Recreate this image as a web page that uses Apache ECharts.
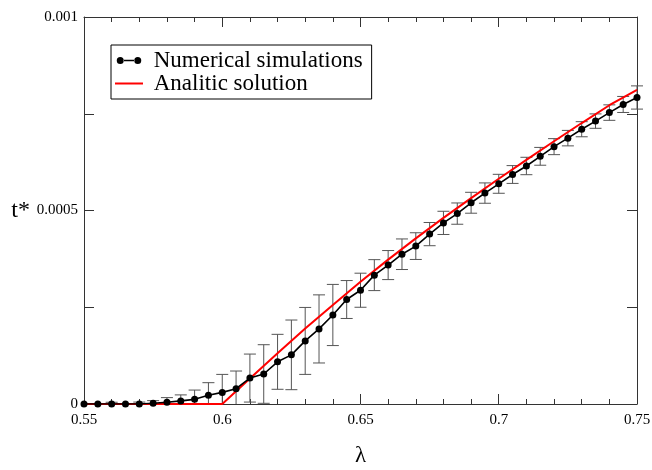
<!DOCTYPE html>
<html>
<head>
<meta charset="utf-8">
<script src="https://cdn.jsdelivr.net/npm/echarts@6/dist/echarts.min.js"></script>
<style>html,body{margin:0;padding:0;background:#fff;}#c{width:652px;height:470px;}</style>
</head>
<body>
<div id="c"></div>
<script>
const lambdaValues = [0.55,0.555,0.56,0.565,0.57,0.575,0.58,0.585,0.59,0.595,0.6,0.605,0.61,0.615,0.62,0.625,0.63,0.635,0.64,0.645,0.65,0.655,0.66,0.665,0.67,0.675,0.68,0.685,0.69,0.695,0.7,0.705,0.71,0.715,0.72,0.725,0.73,0.735,0.74,0.745,0.75];
const simValues = [0,0,0,0,0,0.000002,0.0000045,0.000008,0.000012,0.0000225,0.00003,0.0000395,0.000067,0.0000775,0.000109,0.000127,0.000163,0.000194,0.00023,0.00027,0.000294,0.000333,0.000359,0.000387,0.000408,0.000439,0.000468,0.000492,0.00052,0.000545,0.000569,0.000593,0.000615,0.00064,0.000665,0.000687,0.00071,0.000731,0.000753,0.000774,0.000792];
const simErrors = [0,0,0.0000045,0,0.000005,0.0000067,0.000012,0.0000155,0.000024,0.0000326,0.0000465,0.0000457,0.000062,0.0000757,0.000071,0.00009,0.0000865,0.000088,0.000079,0.000049,0.000044,0.00004,0.0000375,0.0000395,0.0000345,0.00003,0.00003,0.0000275,0.000027,0.0000263,0.0000245,0.000023,0.0000225,0.000023,0.0000207,0.00002,0.0000195,0.0000186,0.00002,0.0000207,0.00003];
const analyticLambda = [0.55,0.6,0.61,0.62,0.63,0.64,0.65,0.66,0.67,0.68,0.69,0.7,0.71,0.72,0.73,0.74,0.75];
const analyticValues = [0,0,0.000066,0.000131,0.000195,0.000256,0.000316,0.000373,0.000428,0.000481,0.000532,0.000582,0.000631,0.000679,0.000726,0.000772,0.000812];
const xTickLabels = ['0.55','0.6','0.65','0.7','0.75'];
const yTickLabels = ['0','0.0005','0.001'];
const seriesNames = ['Numerical simulations','Analitic solution'];

const serif = '"Liberation Serif","DejaVu Serif",serif';
const axisColor = '#333';

const simData = lambdaValues.map((x,i)=>[x, simValues[i]]);
const errData = lambdaValues.map((x,i)=>[x, simValues[i], simErrors[i]]);
const anaData = analyticLambda.map((x,i)=>[x, analyticValues[i]]);

function xLabel(v){ const i = Math.round((v-0.55)/0.05); return xTickLabels[i] || ''; }
function yLabel(v){ const k = v/0.0005; const r = Math.round(k); return Math.abs(k-r)<1e-6 ? (yTickLabels[r]||'') : ''; }

const chart = echarts.init(document.getElementById('c'), null, {renderer:'canvas'});
const baseX = {
  type:'value', min:0.55, max:0.75, interval:0.05,
  axisLine:{show:true, onZero:false, lineStyle:{color:axisColor, width:1}},
  axisTick:{show:true, inside:true, length:10, lineStyle:{color:axisColor}},
  minorTick:{show:true, splitNumber:5, length:5, lineStyle:{color:axisColor}},
  splitLine:{show:false}
};
const baseY = {
  type:'value', min:0, max:0.001, interval:0.00025,
  axisLine:{show:true, onZero:false, lineStyle:{color:axisColor, width:1}},
  axisTick:{show:true, inside:true, length:10, lineStyle:{color:axisColor}},
  minorTick:{show:false},
  splitLine:{show:false}
};
const option = {
  animation:false,
  backgroundColor:'#fff',
  grid:{left:84, right:15, top:17, bottom:66, outerBoundsMode:'none', containLabel:false},
  legend:{
    orient:'vertical', left:111, top:45,
    backgroundColor:'#fff', borderColor:'#000', borderWidth:1,
    padding:[4,9,4,4], itemGap:0, itemWidth:28, itemHeight:7,
    textStyle:{fontFamily:serif, fontSize:23, color:'#000', lineHeight:21},
    formatter:function(n){ return ' ' + n; },
    data:[
      {name:seriesNames[0], icon:'path://M0,4a4,4 0 1,0 8,0a4,4 0 1,0 -8,0Z M7.5,3.1H20.5V4.9H7.5Z M20,4a4,4 0 1,0 8,0a4,4 0 1,0 -8,0Z', itemStyle:{color:'#000'}},
      {name:seriesNames[1], icon:'path://M0,3H28V5H0Z', itemStyle:{color:'#ff0000'}}
    ]
  },
  xAxis:[
    Object.assign({}, baseX, {
      position:'bottom',
      axisLabel:{show:true, margin:9, fontFamily:serif, fontSize:15, color:'#000', formatter:xLabel, showMinLabel:true, showMaxLabel:true},
      name:'λ', nameLocation:'middle', nameGap:40, nameMoveOverlap:false,
      nameTextStyle:{fontFamily:serif, fontSize:23, color:'#000'}
    }),
    Object.assign({}, baseX, {position:'top', axisLabel:{show:false}})
  ],
  yAxis:[
    Object.assign({}, baseY, {
      position:'left',
      axisLabel:{show:true, margin:6, fontFamily:serif, fontSize:15, color:'#000', formatter:yLabel, showMinLabel:true, showMaxLabel:true},
      name:'t*', nameLocation:'middle', nameGap:54, nameRotate:0, nameMoveOverlap:false,
      nameTextStyle:{fontFamily:serif, fontSize:24, color:'#000'}
    }),
    Object.assign({}, baseY, {position:'right', axisLabel:{show:false}})
  ],
  series:[
    {
      type:'custom', name:'errbars', xAxisIndex:0, yAxisIndex:0, z:1,
      data:errData, encode:{x:0, y:1},
      renderItem:function(params, api){
        const x = api.value(0), v = api.value(1), e = api.value(2);
        if (!e) return null;
        const lo = Math.max(0, v-e), hi = v+e;
        const pTop = api.coord([x, hi]);
        const pBot = api.coord([x, lo]);
        const w = 6;
        const children = [
          {type:'line', shape:{x1:pTop[0], y1:pTop[1], x2:pBot[0], y2:pBot[1]}, style:{stroke:'#555', lineWidth:1}},
          {type:'line', shape:{x1:pTop[0]-w, y1:pTop[1], x2:pTop[0]+w, y2:pTop[1]}, style:{stroke:'#555', lineWidth:1}}
        ];
        if (v-e >= 0) children.push({type:'line', shape:{x1:pBot[0]-w, y1:pBot[1], x2:pBot[0]+w, y2:pBot[1]}, style:{stroke:'#555', lineWidth:1}});
        return {type:'group', children:children};
      }
    },
    {
      type:'line', name:seriesNames[1], xAxisIndex:0, yAxisIndex:0, z:2,
      data:anaData, showSymbol:false, symbol:'none',
      lineStyle:{color:'#ff0000', width:2}, itemStyle:{color:'#ff0000'}
    },
    {
      type:'line', name:seriesNames[0], xAxisIndex:0, yAxisIndex:0, z:3,
      data:simData, symbol:'circle', symbolSize:7,
      lineStyle:{color:'#000', width:1.6}, itemStyle:{color:'#000'}
    }
  ]
};
chart.setOption(option);
</script>
</body>
</html>
